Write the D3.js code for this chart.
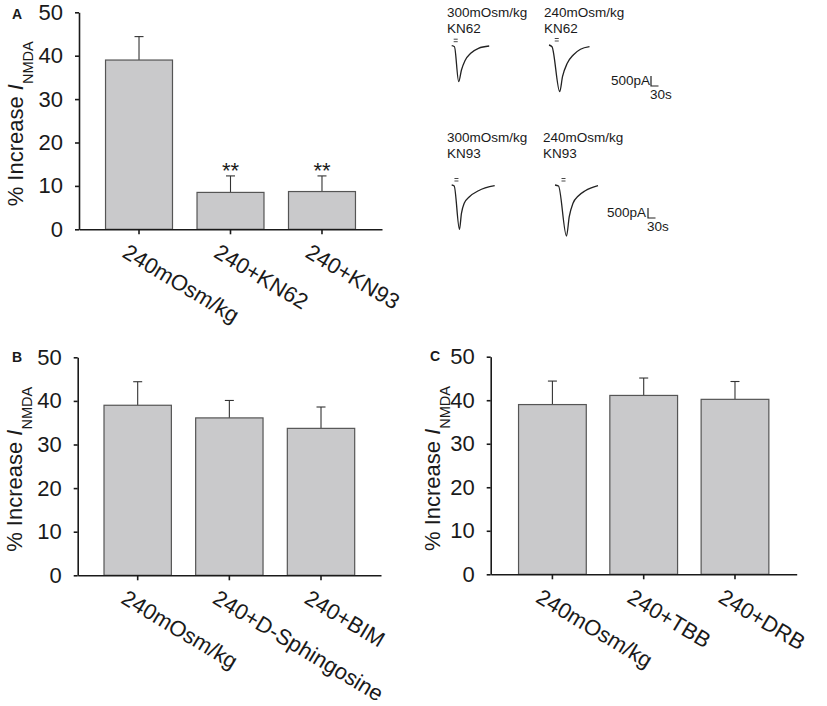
<!DOCTYPE html>
<html><head><meta charset="utf-8">
<script src="https://cdn.jsdelivr.net/npm/d3@7"></script>
<style>
body{margin:0;background:#fff}
text{font-family:"Liberation Sans",Arial,Helvetica,sans-serif;fill:#1a1a1a}
</style>
</head><body>
<svg id="chart" width="827" height="706"></svg>
<script>
// ---------- data ----------
const yTicks = [0, 10, 20, 30, 40, 50];

const catsA = ["240mOsm/kg", "240+KN62", "240+KN93"];
const meanA = [39.0, 8.5, 8.7];
const errA  = [5.4, 3.8, 3.6];
const sigA  = ["", "**", "**"];

const catsB = ["240mOsm/kg", "240+D-Sphingosine", "240+BIM"];
const meanB = [39.0, 36.1, 33.7];
const errB  = [5.4, 4.0, 4.9];

const catsC = ["240mOsm/kg", "240+TBB", "240+DRB"];
const meanC = [39.0, 41.1, 40.2];
const errC  = [5.4, 4.0, 4.1];

// example current traces (time in s, current in pA)
const traceTitles = [["300mOsm/kg","KN62"],["240mOsm/kg","KN62"],["300mOsm/kg","KN93"],["240mOsm/kg","KN93"]];
const trace1T = [0, 11, 28, 39, 53, 76, 107, 150];
const trace1I = [0, -50, -1800, -1215, -750, -380, -130, -15];
const trace2T = [0, 12, 43, 54, 73, 97, 126, 162];
const trace2I = [0, -85, -2335, -1585, -915, -500, -215, -85];
const trace3T = [0, 10, 31, 39, 50, 71, 107, 172];
const trace3I = [0, -50, -2215, -1415, -915, -585, -285, -35];
const trace4T = [0, 14, 46, 57, 72, 93, 121, 172];
const trace4I = [0, -50, -2550, -1585, -915, -550, -285, -35];
const scaleBarI = 500;   // pA
const scaleBarT = 30;    // s

// ---------- drawing ----------
const svg = d3.select("#chart");
svg.append("rect").attr("width", 827).attr("height", 706).attr("fill", "#fff");

const NUMFONT = 22;
const CATFONT = 22;
const LABFONT = 22;
const axisColor = "#1a1a1a";
const FF = '"Liberation Sans",Arial,sans-serif';

function barPanel(cfg) {
  const g = svg.append("g");
  const y = d3.scaleLinear().domain([0, 50]).range([cfg.y0, cfg.y50]);
  const x = d3.scaleBand().domain(cfg.cats).range([cfg.x0, cfg.x1])
    .paddingInner(cfg.pI).paddingOuter(cfg.pO);

  const rows = cfg.cats.map((c, i) => ({c, m: cfg.mean[i], e: cfg.err[i], s: cfg.sig ? cfg.sig[i] : ""}));

  // error bars (upper only)
  const eb = g.append("g").attr("stroke", "#333").attr("stroke-width", 1.1);
  eb.selectAll("line.v").data(rows).join("line")
    .attr("x1", d => x(d.c) + x.bandwidth() / 2).attr("x2", d => x(d.c) + x.bandwidth() / 2)
    .attr("y1", d => y(d.m)).attr("y2", d => y(d.m + d.e));
  eb.selectAll("line.h").data(rows).join("line")
    .attr("x1", d => x(d.c) + x.bandwidth() / 2 - 4.5).attr("x2", d => x(d.c) + x.bandwidth() / 2 + 4.5)
    .attr("y1", d => y(d.m + d.e)).attr("y2", d => y(d.m + d.e));

  // bars
  g.append("g").selectAll("rect").data(rows).join("rect")
    .attr("x", d => x(d.c)).attr("width", x.bandwidth())
    .attr("y", d => y(d.m)).attr("height", d => y(0) - y(d.m))
    .attr("fill", "#c9c9cb").attr("stroke", "#555").attr("stroke-width", 1.2);

  // significance
  g.append("g").selectAll("text").data(rows.filter(d => d.s)).join("text")
    .attr("x", d => x(d.c) + x.bandwidth() / 2)
    .attr("y", d => y(d.m + d.e) + 2.5)
    .attr("text-anchor", "middle").attr("font-size", 22).text(d => d.s);

  // y axis
  const ya = g.append("g").attr("transform", `translate(${cfg.x0},0)`)
    .call(d3.axisLeft(y).tickValues(yTicks).tickSize(4).tickSizeOuter(0).tickPadding(12));
  ya.selectAll("path,line").attr("stroke", axisColor).attr("stroke-width", 1.6);
  ya.selectAll("text").attr("font-size", NUMFONT).attr("fill", axisColor).style("font-family", FF);

  // x axis
  const xa = g.append("g").attr("transform", `translate(0,${cfg.y0})`)
    .call(d3.axisBottom(x).tickSize(5).tickSizeOuter(0));
  xa.selectAll("path,line").attr("stroke", axisColor).attr("stroke-width", 1.6);
  xa.selectAll(".tick text")
    .attr("x", 0).attr("y", 0).attr("dy", 0)
    .attr("text-anchor", "start")
    .attr("transform", "translate(-18,27) rotate(31)")
    .attr("font-size", CATFONT).attr("fill", axisColor)
    .style("font-family", FF);

  // y label
  const lab = g.append("text")
    .attr("transform", `translate(${cfg.labX},${(cfg.y0 + cfg.y50) / 2 + 3}) rotate(-90)`)
    .attr("text-anchor", "middle").attr("font-size", LABFONT);
  lab.append("tspan").text("% Increase ");
  lab.append("tspan").attr("font-style", "italic").text("I");
  lab.append("tspan").attr("font-size", 14.5).attr("dy", 9.5).text("NMDA");

  // panel letter
  g.append("text").attr("x", cfg.letX).attr("y", cfg.letY)
    .attr("font-size", 14).attr("font-weight", "bold").text(cfg.letter);
}

barPanel({cats: catsA, mean: meanA, err: errA, sig: sigA,
  x0: 79, x1: 382, y0: 229.3, y50: 12.3, pI: 0.268, pO: 0.29,
  labX: 23, letX: 12, letY: 19, letter: "A"});
barPanel({cats: catsB, mean: meanB, err: errB,
  x0: 77.7, x1: 381, y0: 575.3, y50: 357.3, pI: 0.265, pO: 0.287,
  labX: 22, letX: 12, letY: 362, letter: "B"});
barPanel({cats: catsC, mean: meanC, err: errC,
  x0: 490.7, x1: 796.7, y0: 574.3, y50: 356.7, pI: 0.258, pO: 0.305,
  labX: 440, letX: 430, letY: 361, letter: "C"});

// ---------- traces ----------
const tx = d3.scaleLinear().domain([0, 30]).range([0, 7.5]);
const iy = d3.scaleLinear().domain([0, -500]).range([0, 10]);
const line = d3.line().x(d => tx(d[0])).y(d => iy(d[1])).curve(d3.curveMonotoneX);

const traces = [
  {t: trace1T, i: trace1I, ox: 451.7, oy: 45.7, tx: 447, ty: 17},
  {t: trace2T, i: trace2I, ox: 549,   oy: 45,   tx: 544, ty: 17},
  {t: trace3T, i: trace3I, ox: 451.7, oy: 185,  tx: 447, ty: 142},
  {t: trace4T, i: trace4I, ox: 555,   oy: 185,  tx: 543, ty: 142}
];
traces.forEach((tr, k) => {
  const g = svg.append("g");
  const txt = g.append("text").attr("font-size", 13.5).attr("fill", "#222");
  txt.append("tspan").attr("x", tr.tx).attr("y", tr.ty).text(traceTitles[k][0]);
  txt.append("tspan").attr("x", tr.tx).attr("y", tr.ty + 15.5).text(traceTitles[k][1]);
  const pts = tr.t.map((t, j) => [t, tr.i[j]]);
  const tg = g.append("g").attr("transform", `translate(${tr.ox},${tr.oy})`);
  tg.append("path").attr("d", line(pts)).attr("fill", "none").attr("stroke", "#222").attr("stroke-width", 1.3);
  // drug application marker
  const minIdx = d3.minIndex(tr.i);
  const mx = tx(tr.t[minIdx]) - 3;
  [-6.5, -4].forEach(dy => tg.append("line").attr("x1", mx - 2).attr("x2", mx + 2)
    .attr("y1", dy).attr("y2", dy).attr("stroke", "#333").attr("stroke-width", 0.9));
});

// scale bars
[{x: 651, y: 86, lx: 611, ly: 85, sy: 99},
 {x: 648, y: 218, lx: 607, ly: 217, sy: 231}].forEach(sb => {
  const g = svg.append("g");
  g.append("path")
    .attr("d", `M${sb.x},${sb.y - iy(-scaleBarI)}V${sb.y}H${sb.x + tx(scaleBarT)}`)
    .attr("fill", "none").attr("stroke", "#222").attr("stroke-width", 1.2);
  g.append("text").attr("x", sb.lx).attr("y", sb.ly).attr("font-size", 13.5).text(scaleBarI + "pA");
  g.append("text").attr("x", sb.x - 1).attr("y", sb.sy).attr("font-size", 13.5).text(scaleBarT + "s");
});
</script>
</body></html>
